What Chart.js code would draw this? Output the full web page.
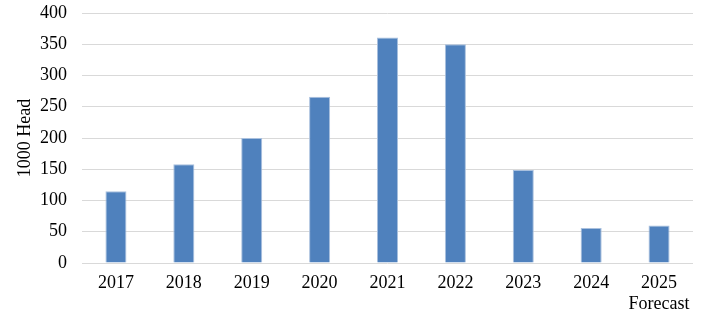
<!DOCTYPE html>
<html>
<head>
<meta charset="utf-8">
<script src="https://cdn.jsdelivr.net/npm/chart.js@4"></script>
<style>
  html, body { margin: 0; padding: 0; background: #fff; }
  .wrap { width: 727px; height: 319px; }
</style>
</head>
<body>
<div class="wrap"><canvas class="myChart" width="727" height="319"></canvas></div>
<script>
const years = [["2017"], ["2018"], ["2019"], ["2020"], ["2021"], ["2022"], ["2023"], ["2024"], ["2025", "Forecast"]];
const head = [115, 158, 200, 266, 361, 350, 149, 56, 60];
const yTicks = [0, 50, 100, 150, 200, 250, 300, 350, 400];

const ctx = document.querySelector(".myChart");
const serif = "'Liberation Serif', 'Times New Roman', serif";

new Chart(ctx, {
  type: "bar",
  data: {
    labels: years,
    datasets: [
      {
        label: "1000 Head",
        data: head,
        backgroundColor: "#4f81bd",
        borderColor: "#a9c0de",
        borderWidth: 1,
        barPercentage: 0.31,
        categoryPercentage: 1,
      },
    ],
  },
  options: {
    responsive: false,
    animation: false,
    layout: { padding: { top: 13, right: 34, left: 10, bottom: 0 } },
    plugins: { legend: { display: false }, tooltip: { enabled: false } },
    scales: {
      x: {
        grid: { display: false, tickLength: 0 },
        border: { display: false },
        ticks: { color: "#000", font: { family: serif, size: 18, lineHeight: 1.15 }, padding: 10, maxRotation: 0 },
        afterFit: (s) => { s.height = 56; s.paddingLeft = 0; s.paddingRight = 0; },
      },
      y: {
        min: 0,
        max: 400,
        afterBuildTicks: (axis) => { axis.ticks = yTicks.map((v) => ({ value: v })); },
        grid: { color: "#d9d9d9", lineWidth: 1, drawTicks: false, tickLength: 0 },
        border: { display: false },
        ticks: { color: "#000", font: { family: serif, size: 18 }, padding: 15 },
        title: { display: true, text: "1000 Head", color: "#000", font: { family: serif, size: 18 }, padding: 4 },
        afterFit: (s) => { s.width = 72; s.paddingTop = 0; s.paddingBottom = 0; },
      },
    },
  },
});
</script>
</body>
</html>
